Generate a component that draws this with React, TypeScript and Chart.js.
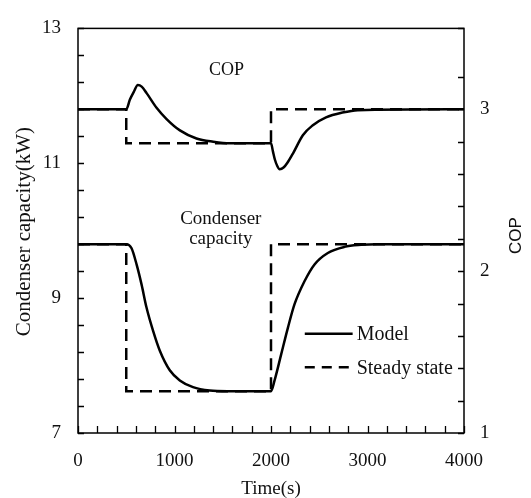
import React, { useEffect, useRef } from "react";
import { Chart, registerables } from "chart.js";

Chart.register(...registerables);

// ---- data ----
const copTime = [0, 500, 538, 580, 620, 660, 711, 814, 918, 1056, 1228, 1401, 1573, 2000, 2020, 2040, 2065, 2090, 2130, 2170, 2230, 2330, 2430, 2570, 2740, 2900, 4000];
const copModel = [3.0, 3.0, 3.06, 3.11, 3.15, 3.14, 3.10, 3.01, 2.94, 2.87, 2.82, 2.80, 2.79, 2.79, 2.74, 2.69, 2.65, 2.63, 2.64, 2.67, 2.73, 2.84, 2.90, 2.95, 2.98, 2.995, 3.0];

const capTime = [0, 500, 555, 607, 659, 710, 779, 848, 951, 1055, 1192, 1365, 1550, 2000, 2037, 2106, 2175, 2244, 2347, 2451, 2589, 2761, 2934, 3100, 4000];
const capModel = [9.8, 9.8, 9.74, 9.50, 9.20, 8.86, 8.51, 8.22, 7.93, 7.78, 7.68, 7.63, 7.62, 7.62, 7.78, 8.17, 8.56, 8.91, 9.25, 9.50, 9.67, 9.76, 9.79, 9.8, 9.8];

const steadyTime = [0, 500, 500, 2000, 2000, 4000];
const copSteady = [3.0, 3.0, 2.79, 2.79, 3.0, 3.0];
const capSteady = [9.8, 9.8, 7.62, 7.62, 9.8, 9.8];

const xTickLabels = [0, 1000, 2000, 3000, 4000];
const leftTickLabels = [7, 9, 11, 13];
const rightTickLabels = [1, 2, 3];

const seriesNames = ["Model", "Steady state"];
const xTitle = "Time(s)";
const leftTitle = "Condenser capacity(kW)";
const rightTitle = "COP";

// annotation anchors in data coordinates
const copLabel = { text: "COP", t: 1540, v: 3.24 };
const capLabel = { lines: ["Condenser", "capacity"], t: 1480, v: [10.18, 9.87] };
const legendAnchor = { t0: 2350, t1: 2846, tText: 2888, v: [8.47, 7.975] };

const SERIF = "'Liberation Serif', 'Times New Roman', serif";
const SANS = "'Liberation Sans', Arial, sans-serif";

const pts = (xs: number[], ys: number[]) => xs.map((x, i) => ({ x, y: ys[i] }));
const isLabel = (v: number, list: number[]) => list.some((l) => Math.abs(l - v) < 1e-6);

const framePlugin = {
  id: "framePlugin",
  afterDatasetsDraw(chart: any) {
    const { ctx, chartArea: a, scales } = chart;
    const sx = scales.x, sy = scales.y, sy1 = scales.y1;
    ctx.save();
    ctx.strokeStyle = "#000";
    ctx.lineWidth = 1.3;
    ctx.setLineDash([]);
    ctx.beginPath();
    sx.ticks.forEach((t: any) => {
      const p = Math.round(sx.getPixelForValue(t.value)) + 0.5;
      ctx.moveTo(p, a.bottom);
      ctx.lineTo(p, a.bottom - 7);
    });
    sy.ticks.forEach((t: any) => {
      const p = Math.round(sy.getPixelForValue(t.value)) + 0.5;
      ctx.moveTo(a.left, p);
      ctx.lineTo(a.left + 6, p);
    });
    sy1.ticks.forEach((t: any) => {
      const p = Math.round(sy1.getPixelForValue(t.value)) + 0.5;
      ctx.moveTo(a.right, p);
      ctx.lineTo(a.right - 6, p);
    });
    ctx.stroke();
    ctx.lineWidth = 1.5;
    ctx.strokeRect(a.left, a.top, a.right - a.left, a.bottom - a.top);

    // annotations
    ctx.fillStyle = "#111";
    ctx.textAlign = "center";
    ctx.textBaseline = "middle";
    ctx.font = `18px ${SERIF}`;
    ctx.fillText(copLabel.text, sx.getPixelForValue(copLabel.t), sy1.getPixelForValue(copLabel.v));
    ctx.font = `19px ${SERIF}`;
    capLabel.lines.forEach((ln, i) => {
      ctx.fillText(ln, sx.getPixelForValue(capLabel.t), sy.getPixelForValue(capLabel.v[i]));
    });

    // legend
    const lx0 = sx.getPixelForValue(legendAnchor.t0);
    const lx1 = sx.getPixelForValue(legendAnchor.t1);
    const tx = sx.getPixelForValue(legendAnchor.tText);
    ctx.lineWidth = 2.5;
    seriesNames.forEach((name, i) => {
      const y = sy.getPixelForValue(legendAnchor.v[i]);
      ctx.setLineDash(i === 0 ? [] : [10, 7]);
      ctx.beginPath();
      ctx.moveTo(lx0, y);
      ctx.lineTo(lx1, y);
      ctx.stroke();
      ctx.setLineDash([]);
      ctx.textAlign = "left";
      ctx.font = `20px ${SERIF}`;
      ctx.fillText(name, tx, y + 1);
    });

    // axis titles
    ctx.textAlign = "center";
    ctx.textBaseline = "alphabetic";
    ctx.font = `19px ${SERIF}`;
    ctx.fillText(xTitle, (a.left + a.right) / 2, 494);

    ctx.textBaseline = "middle";
    ctx.save();
    ctx.translate(24, (a.top + a.bottom) / 2 + 1);
    ctx.rotate(-Math.PI / 2);
    ctx.font = `21px ${SERIF}`;
    ctx.fillText(leftTitle, 0, 0);
    ctx.restore();

    ctx.save();
    ctx.translate(516, (a.top + a.bottom) / 2 + 5);
    ctx.rotate(-Math.PI / 2);
    ctx.font = `17px ${SANS}`;
    ctx.fillText(rightTitle, 0, 0);
    ctx.restore();

    ctx.restore();
  },
};

export default function App() {
  const ref = useRef<HTMLCanvasElement | null>(null);

  useEffect(() => {
    if (!ref.current) return;
    const tickFont = { family: SERIF, size: 19 };
    const chart = new Chart(ref.current, {
      type: "line",
      data: {
        datasets: [
          {
            label: "Model COP",
            data: pts(copTime, copModel),
            yAxisID: "y1",
            borderColor: "#000",
            borderWidth: 2.5,
            pointRadius: 0,
            cubicInterpolationMode: "monotone",
            fill: false,
          },
          {
            label: "Model capacity",
            data: pts(capTime, capModel),
            yAxisID: "y",
            borderColor: "#000",
            borderWidth: 2.5,
            pointRadius: 0,
            cubicInterpolationMode: "monotone",
            fill: false,
          },
          {
            label: "Steady COP",
            data: pts(steadyTime, copSteady),
            yAxisID: "y1",
            borderColor: "#000",
            borderWidth: 2.5,
            borderDash: [12, 7],
            pointRadius: 0,
            tension: 0,
            fill: false,
          },
          {
            label: "Steady capacity",
            data: pts(steadyTime, capSteady),
            yAxisID: "y",
            borderColor: "#000",
            borderWidth: 2.5,
            borderDash: [12, 7],
            pointRadius: 0,
            tension: 0,
            fill: false,
          },
        ],
      },
      options: {
        responsive: false,
        animation: false,
        devicePixelRatio: 1,
        layout: { padding: { top: 25, left: 0, right: 0, bottom: 0 } },
        plugins: { legend: { display: false }, tooltip: { enabled: false } },
        scales: {
          x: {
            type: "linear",
            min: 0,
            max: 4000,
            grid: { display: false, drawTicks: false },
            border: { display: false },
            ticks: {
              stepSize: 200,
              autoSkip: false,
              maxRotation: 0,
              padding: 17,
              color: "#111",
              font: tickFont,
              callback: (v: any) => (isLabel(Number(v), xTickLabels) ? String(v) : ""),
            },
            afterFit: (s: any) => { s.height = 65; },
          },
          y: {
            type: "linear",
            position: "left",
            min: 7,
            max: 13,
            grid: { display: false, drawTicks: false },
            border: { display: false },
            ticks: {
              stepSize: 0.4,
              autoSkip: false,
              padding: 17,
              color: "#111",
              font: tickFont,
              callback: (v: any) => (isLabel(Number(v), leftTickLabels) ? String(Math.round(Number(v))) : ""),
            },
            afterFit: (s: any) => { s.width = 78; },
          },
          y1: {
            type: "linear",
            position: "right",
            min: 1,
            max: 3.5,
            grid: { display: false, drawTicks: false },
            border: { display: false },
            ticks: {
              stepSize: 0.2,
              autoSkip: false,
              padding: 16,
              color: "#111",
              font: tickFont,
              callback: (v: any) => (isLabel(Number(v), rightTickLabels) ? String(Math.round(Number(v))) : ""),
            },
            afterFit: (s: any) => { s.width = 67; },
          },
        },
      },
      plugins: [framePlugin],
    } as any);
    return () => chart.destroy();
  }, []);

  return (
    <div style={{ position: "absolute", left: 0, top: 0, width: 531, height: 498, background: "#fff" }}>
      <canvas ref={ref} width={531} height={498} style={{ display: "block", width: 531, height: 498 }} />
    </div>
  );
}
